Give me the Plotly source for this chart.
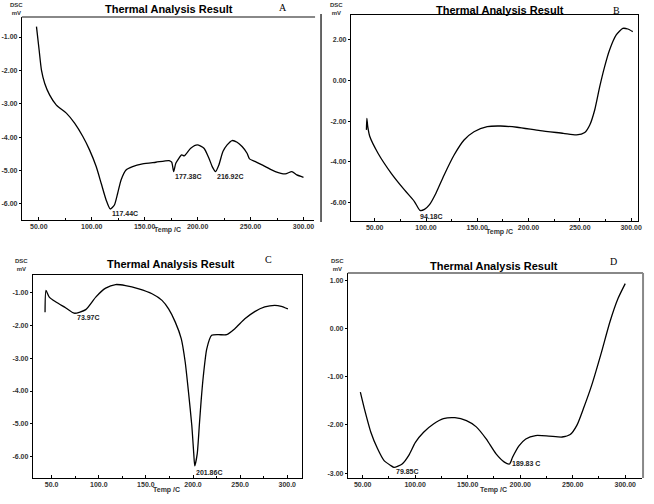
import plotly.graph_objects as go

W, H = 654, 504

# ---------------- data ----------------
a_temp = [47.8, 50.3, 52.5, 55.6, 60.3, 66.6, 76.0, 83.8, 91.6, 97.9, 104.2, 108.9, 113.6, 117.44,
          121.4, 124.5, 127.7, 132.4, 138.6, 148.0, 160.6, 173.1, 175.5, 177.38, 179.4, 185.0,
          187.3, 193.5, 199.7, 206.0, 210.7, 213.8, 216.92, 220.1, 223.9, 227.9, 232.6, 237.3,
          242.0, 246.7, 249.0, 254.6, 264.0, 273.4, 282.8, 289.0, 293.7, 300.0]
a_dsc = [-0.69, -1.39, -1.99, -2.39, -2.74, -3.04, -3.28, -3.58, -3.98, -4.38, -4.88, -5.38, -5.88, -6.15,
         -6.03, -5.68, -5.28, -4.98, -4.88, -4.80, -4.75, -4.70, -4.75, -5.03, -4.78, -4.53,
         -4.56, -4.33, -4.23, -4.33, -4.63, -4.88, -5.03, -4.83, -4.43, -4.23, -4.10, -4.15,
         -4.28, -4.48, -4.65, -4.73, -4.88, -5.03, -5.10, -5.03, -5.13, -5.20]

b_temp = [41.9, 42.3, 43.2, 45.2, 53.2, 66.1, 79.0, 88.7, 94.18, 98.5, 103.2, 109.7, 117.7, 127.4,
          137.1, 146.8, 159.7, 172.6, 188.7, 211.3, 233.9, 246.8, 254.8, 259.7, 264.5, 269.4,
          274.2, 279.0, 285.5, 291.9, 296.8, 301.6]
b_dsc = [-2.43, -1.86, -2.27, -2.76, -3.58, -4.57, -5.39, -5.96, -6.40, -6.35, -6.13, -5.55, -4.65, -3.67,
         -2.93, -2.52, -2.27, -2.24, -2.30, -2.47, -2.60, -2.68, -2.56, -2.19, -1.45, -0.30,
         0.69, 1.51, 2.25, 2.57, 2.54, 2.41]

c_temp = [43.0, 44.0, 47.5, 54.6, 65.1, 73.97, 86.2, 96.8, 107.3, 117.9, 128.4, 142.5, 156.5,
          167.1, 174.1, 181.2, 187.5, 191.7, 195.2, 198.7, 200.8, 201.86, 204.5, 206.8, 208.6,
          211.0, 214.6, 219.8, 226.9, 235.7, 244.4, 255.0, 265.5, 276.1, 286.6, 293.7, 300.7]
c_dsc = [-1.61, -0.95, -1.15, -1.30, -1.48, -1.64, -1.53, -1.15, -0.88, -0.77, -0.80, -0.90, -1.05,
         -1.25, -1.51, -1.91, -2.41, -3.12, -4.03, -5.04, -5.90, -6.27, -5.90, -5.00, -4.30,
         -3.53, -2.72, -2.31, -2.29, -2.29, -2.11, -1.81, -1.59, -1.45, -1.40, -1.43, -1.51]

d_temp = [47.8, 51.6, 57.8, 64.1, 70.4, 76.7, 79.85, 87.6, 93.9, 100.2, 108.0, 117.4, 126.9, 137.8,
          148.8, 158.2, 167.6, 177.0, 184.9, 189.83, 192.7, 199.0, 205.3, 214.7, 227.2, 239.8,
          247.6, 253.9, 260.2, 268.0, 277.4, 285.3, 293.1, 300.0]
d_dsc = [-1.32, -1.66, -2.15, -2.49, -2.74, -2.84, -2.88, -2.81, -2.63, -2.36, -2.15, -1.98, -1.87, -1.85,
         -1.91, -2.04, -2.29, -2.60, -2.77, -2.81, -2.67, -2.43, -2.29, -2.22, -2.23, -2.25,
         -2.20, -2.01, -1.66, -1.18, -0.49, 0.13, 0.62, 0.93]

x_ticks = [50, 100, 150, 200, 250, 300]
x_labels_std = ["50.00", "100.00", "150.00", "200.00", "250.00", "300.00"]
x_labels_c = ["50.0", "100.0", "150.0", "200.0", "250.0", "300.0"]

a_yticks = [-1, -2, -3, -4, -5, -6]
a_ylabels = ["-1.00", "-2.00", "-3.00", "-4.00", "-5.00", "-6.00"]
b_yticks = [2, 0, -2, -4, -6]
b_ylabels = ["2.00", "0.00", "-2.00", "-4.00", "-6.00"]
c_yticks = [-1, -2, -3, -4, -5, -6]
c_ylabels = ["-1.00", "-2.00", "-3.00", "-4.00", "-5.00", "-6.00"]
d_yticks = [1, 0, -1, -2, -3]
d_ylabels = ["1.00", "0.00", "-1.00", "-2.00", "-3.00"]

title_text = "Thermal Analysis Result"
x_title = "Temp /C"
y_unit = "DSC<br>mV"
panel_letters = ["A", "B", "C", "D"]
a_peaks = ["117.44C", "177.38C", "216.92C"]
b_peaks = ["94.18C"]
c_peaks = ["73.97C", "201.86C"]
d_peaks = ["79.85C", "189.83 C"]

# ---------------- layout helpers ----------------
def px(x):
    return x / W

def py(y):
    return 1 - y / H

panels = [
    # name, temp, dsc, box (l, t, r, b) in px, xrange, yrange, ytick vals, ylabels, xlabels
    ("", a_temp, a_dsc, (22, 17, 316, 220), [34, 310], [-6.48, -0.40], a_yticks, a_ylabels, x_labels_std),
    ("2", b_temp, b_dsc, (353, 15, 642, 221), [26.7, 306.8], [-6.92, 3.23], b_yticks, b_ylabels, x_labels_std),
    ("3", c_temp, c_dsc, (33, 275, 304, 478), [30, 315.8], [-6.64, -0.48], c_yticks, c_ylabels, x_labels_c),
    ("4", d_temp, d_dsc, (350, 273, 646, 478), [35.9, 316], [-3.10, 1.15], d_yticks, d_ylabels, x_labels_std),
]

fig = go.Figure()
tickfont = dict(family="Liberation Sans", size=7, color="#333", weight="bold")

for i, (n, t, d, box, xr, yr, ytv, ytl, xtl) in enumerate(panels):
    l, tp, r, b = box
    mirror = i in (1, 2)
    fig.add_trace(go.Scatter(x=t, y=d, mode="lines", xaxis="x" + n, yaxis="y" + n,
                             line=dict(color="black", width=1.3, shape="spline", smoothing=0.6),
                             showlegend=False, hoverinfo="skip"))
    fig.layout["xaxis" + n] = dict(domain=[px(l), px(r)], range=xr, anchor="y" + n,
                                   showgrid=False, zeroline=False, showline=True, linecolor="black",
                                   linewidth=1, mirror=mirror, tickvals=x_ticks, ticktext=xtl,
                                   ticks="inside", ticklen=3, tickcolor="black", tickfont=tickfont,
                                   minor=dict(dtick=25, ticks="inside", ticklen=2, tickcolor="black"))
    fig.layout["yaxis" + n] = dict(domain=[py(b), py(tp)], range=yr, anchor="x" + n,
                                   showgrid=False, zeroline=False, showline=True, linecolor="black",
                                   linewidth=1, mirror=mirror, tickvals=ytv, ticktext=ytl,
                                   ticks="outside", ticklen=2, tickcolor="black", tickfont=tickfont)

shapes = [
    # panel A: grey top line and detached right line
    dict(type="line", xref="paper", yref="paper", x0=px(22), x1=px(317), y0=py(17), y1=py(17),
         line=dict(color="#888", width=2)),
    dict(type="line", xref="paper", yref="paper", x0=px(323), x1=px(323), y0=py(14), y1=py(222),
         line=dict(color="black", width=1.2)),
    # panel D: grey top and right lines
    dict(type="line", xref="paper", yref="paper", x0=px(350), x1=px(647), y0=py(273), y1=py(273),
         line=dict(color="#888", width=2)),
    dict(type="line", xref="paper", yref="paper", x0=px(647), x1=px(647), y0=py(273), y1=py(478),
         line=dict(color="#888", width=2)),
]

ann = []
def add_text(text, x, y, size, xanchor="center", family="Liberation Sans", weight="normal", color="black"):
    ann.append(dict(text=text, x=px(x), y=py(y), xref="paper", yref="paper", showarrow=False,
                    xanchor=xanchor, yanchor="middle",
                    font=dict(family=family, size=size, color=color, weight=weight)))

# titles
for (x, y) in [(170, 9), (503, 10), (172, 264), (497, 266)]:
    add_text(title_text, x, y, 11, weight="bold")
# letters
for letter, (x, y) in zip(panel_letters, [(285, 8), (620, 10), (270, 259), (617, 261)]):
    add_text(letter, x, y, 10, family="Liberation Serif")
# x titles
for (x, y) in [(169, 230), (503, 232), (168, 490), (497, 490)]:
    add_text(x_title, x, y, 7, weight="bold", color="#333")
# DSC / mV
for (x, y) in [(17, 9), (339, 9), (22, 265), (340, 265)]:
    ann.append(dict(text=y_unit, x=px(x), y=py(y), xref="paper", yref="paper", showarrow=False,
                    xanchor="center", yanchor="middle", align="center",
                    font=dict(family="Liberation Sans", size=6, color="#333", weight="bold")))
# peak labels
peak_pos = [(a_peaks, [(111, 213), (174, 176), (216, 176)]),
            (b_peaks, [(421, 216)]),
            (c_peaks, [(75, 317), (195, 472)]),
            (d_peaks, [(396, 471), (513, 463)])]
for labels, poss in peak_pos:
    for lab, (x, y) in zip(labels, poss):
        add_text(lab, x, y, 7, xanchor="left", weight="bold", color="#222")

fig.update_layout(width=W, height=H, margin=dict(l=0, r=0, t=0, b=0),
                  paper_bgcolor="white", plot_bgcolor="white",
                  shapes=shapes, annotations=ann, showlegend=False)

fig.write_html("out.html", config={"displayModeBar": False},
               post_script="document.body.style.margin='0';document.body.style.overflow='hidden';")
